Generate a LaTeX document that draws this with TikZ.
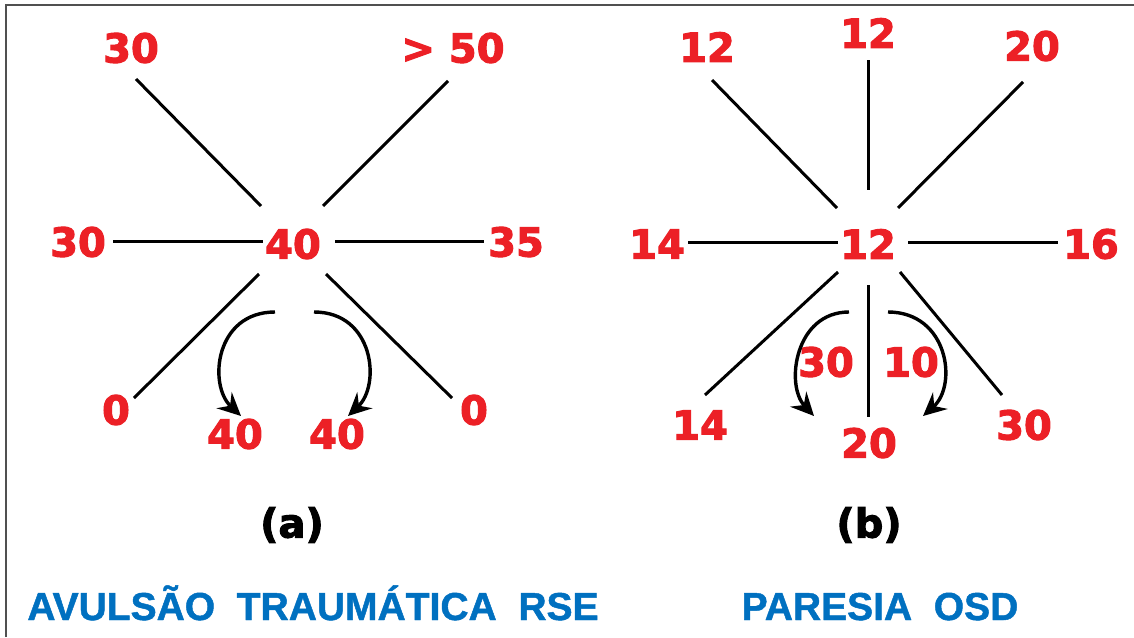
\documentclass[tikz,border=0pt]{standalone}
\usepackage{fontspec}
\setmainfont{Liberation Sans}[BoldFeatures={FakeBold=1.2}]
\newfontfamily\numfont{DejaVu Sans}[BoldFeatures={FakeBold=2.6}]
\usetikzlibrary{arrows.meta}
\definecolor{numred}{RGB}{236,32,38}
\definecolor{titleblue}{RGB}{0,112,192}
\definecolor{framegray}{RGB}{80,80,80}

\begin{document}
\begin{tikzpicture}[x=1pt,y=-1pt,
  num/.style={text=numred, inner sep=0pt, font=\numfont\bfseries\fontsize{40}{40}\selectfont},
  spoke/.style={line width=3pt, black},
  turn/.style={line width=3.4pt, black, -{Stealth[length=23pt,width=22pt,inset=8pt]}},
  caption/.style={inner sep=0pt, font=\numfont\bfseries\fontsize{40}{40}\selectfont},
  title/.style={text=titleblue, inner sep=0pt, anchor=base, font=\bfseries\fontsize{39}{39}\selectfont}]

\useasboundingbox (0,0) rectangle (1134,637);
\fill[white] (0,0) rectangle (1134,637);
\draw[framegray, line width=2pt] (5.5,637) -- (5.5,4.5) -- (1134,4.5);

% ---------- (a) ----------
\node[num] (ac)  at (293,244) {40};
\node[num] (aul) at (131,48)  {30};
\node[num] (aur) at (453,48)  {> 50};
\node[num] (al)  at (78,242)  {30};
\node[num] (ar)  at (516,242) {35};
\node[num] (adl) at (116,410) {0};
\node[num] (adr) at (474,410) {0};
\node[num] (abl) at (235,434) {40};
\node[num] (abr) at (337,434) {40};

\coordinate (aul1) at (136,79);  \coordinate (aul2) at (261,206);
\coordinate (aur1) at (448,81);  \coordinate (aur2) at (323,206);
\coordinate (al1)  at (113,241); \coordinate (al2)  at (263,241);
\coordinate (ar1)  at (335,241); \coordinate (ar2)  at (484,241);
\coordinate (adl1) at (259,274); \coordinate (adl2) at (134,398);
\coordinate (adr1) at (326,274); \coordinate (adr2) at (452,398);

\foreach \s in {aul,aur,al,ar,adl,adr}
  \draw[spoke] (\s1) -- (\s2);

\coordinate (at1) at (275,312);  \coordinate (at1e) at (241,416);
\coordinate (at2) at (314,312);  \coordinate (at2e) at (348,416);
\draw[turn] (at1) .. controls (215,312) and (208,385) .. (at1e);
\draw[turn] (at2) .. controls (374,312) and (381,385) .. (at2e);

\node[caption] (acap) at (292,525) {(a)};
\node[title] (atitle) at (313,620) {AVULSÃO~~TRAUMÁTICA~~RSE};

% ---------- (b) ----------
\node[num] (bc)  at (868,244) {12};
\node[num] (bu)  at (868,33)  {12};
\node[num] (bul) at (707,47)  {12};
\node[num] (bur) at (1032,46) {20};
\node[num] (bl)  at (657,244) {14};
\node[num] (br)  at (1091,244) {16};
\node[num] (bdl) at (700,425) {14};
\node[num] (bdr) at (1024,425) {30};
\node[num] (bd)  at (869,443) {20};
\node[num] (bil) at (826,362) {30};
\node[num] (bir) at (911,362) {10};

\coordinate (bu1)  at (868,60);   \coordinate (bu2)  at (868,190);
\coordinate (bul1) at (712,80);   \coordinate (bul2) at (837,208);
\coordinate (bur1) at (1023,82);  \coordinate (bur2) at (898,208);
\coordinate (bl1)  at (688,242);  \coordinate (bl2)  at (838,242);
\coordinate (br1)  at (908,242);  \coordinate (br2)  at (1058,242);
\coordinate (bdl1) at (838,272);  \coordinate (bdl2) at (705,395);
\coordinate (bdr1) at (900,272);  \coordinate (bdr2) at (1002,395);
\coordinate (bd1)  at (868,285);  \coordinate (bd2)  at (868,417);

\foreach \s in {bu,bul,bur,bl,br,bdl,bdr,bd}
  \draw[spoke] (\s1) -- (\s2);

\coordinate (bt1) at (849,312);  \coordinate (bt1e) at (814,416);
\coordinate (bt2) at (888,312);  \coordinate (bt2e) at (923,416);
\draw[turn] (bt1) .. controls (795,312) and (785,385) .. (bt1e);
\draw[turn] (bt2) .. controls (948,312) and (958,385) .. (bt2e);

\node[caption] (bcap) at (869,525) {(b)};
\node[title] (btitle) at (880,620) {PARESIA~~OSD};
\end{tikzpicture}
\end{document}
